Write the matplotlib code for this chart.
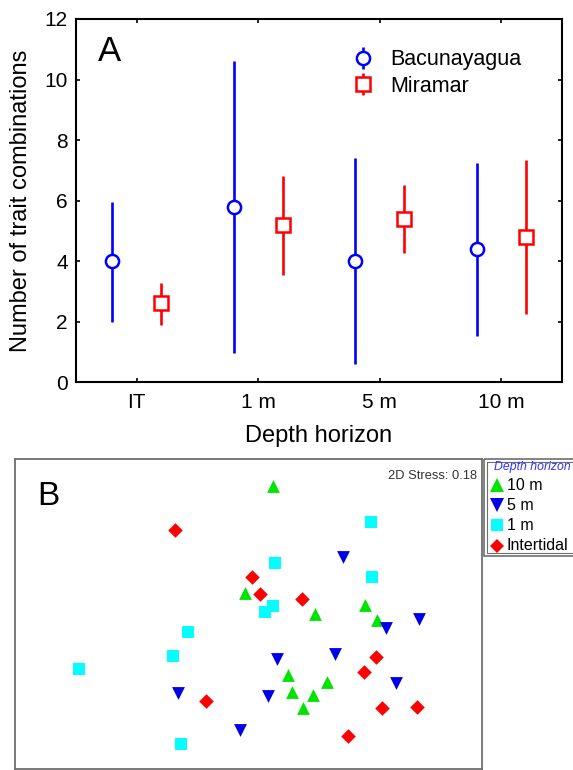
import matplotlib
matplotlib.use('Agg')
import matplotlib.pyplot as plt
from matplotlib.patches import Rectangle
import numpy as np

plt.rcParams['font.family'] = ['Liberation Sans', 'DejaVu Sans']

# ---------------- Panel A data ----------------
depths = ['IT', '1 m', '5 m', '10 m']
bac_mean = [4.0, 5.8, 4.0, 4.4]
bac_low = [2.0, 0.95, 0.6, 1.52]
bac_high = [5.95, 10.6, 7.4, 7.25]
mir_mean = [2.6, 5.2, 5.4, 4.8]
mir_low = [1.9, 3.55, 4.25, 2.25]
mir_high = [3.26, 6.82, 6.52, 7.33]

# ---------------- Panel B data (nMDS coordinates) ----------------
m10_x = [0.21, -0.03, 0.57, 1.00, 1.10, 0.34, 0.67, 0.37, 0.55, 0.47]
m10_y = [1.24, 0.20, 0.00, 0.09, -0.06, -0.59, -0.66, -0.75, -0.78, -0.91]
m5_x = [0.81, 1.46, 1.18, 0.74, 0.24, 1.26, -0.60, 0.17, -0.07]
m5_y = [0.55, -0.05, -0.14, -0.39, -0.44, -0.67, -0.76, -0.79, -1.12]
m1_x = [1.05, 0.23, 1.06, 0.21, 0.14, -0.52, -0.65, -1.45, -0.58]
m1_y = [0.89, 0.49, 0.36, 0.08, 0.02, -0.17, -0.41, -0.53, -1.26]
it_x = [-0.63, 0.03, 0.10, 0.46, 1.09, 0.99, -0.36, 1.14, 1.44, 0.85]
it_y = [0.81, 0.36, 0.19, 0.15, -0.42, -0.56, -0.84, -0.91, -0.90, -1.18]
stress = 0.18

BLUE = '#0000FF'
RED = '#FF0000'

W, H = 573, 770
fig = plt.figure(figsize=(W / 100, H / 100), dpi=100)

def fx(px):
    return px / W

def fy(py):
    return 1 - py / H

# ---------------- Panel A ----------------
axA = fig.add_axes([fx(76), fy(382), (562 - 76) / W, (382 - 19) / H])
x = np.arange(1, len(depths) + 1)
off = 0.2
bm = np.array(bac_mean); mm = np.array(mir_mean)
axA.errorbar(x - off, bm, yerr=[bm - np.array(bac_low), np.array(bac_high) - bm],
             fmt='o', color=BLUE, ecolor=BLUE, elinewidth=1.9, capsize=0,
             ms=9.5, mfc='white', mec=BLUE, mew=1.8, label='Bacunayagua', zorder=3)
axA.errorbar(x + off, mm, yerr=[mm - np.array(mir_low), np.array(mir_high) - mm],
             fmt='s', color=RED, ecolor=RED, elinewidth=1.9, capsize=0,
             ms=10, mfc='white', mec=RED, mew=1.8, label='Miramar', zorder=3)
axA.set_xlim(0.5, 4.5)
axA.set_ylim(0, 12)
axA.set_yticks(range(0, 13, 2))
axA.set_xticks(x)
axA.set_xticklabels(depths)
axA.tick_params(direction='in', length=3, width=1.2, labelsize=15, top=True, right=True, pad=8)
axA.tick_params(axis='y', pad=6)
for s in axA.spines.values():
    s.set_linewidth(1.5)
axA.set_xlabel('Depth horizon', fontsize=17, labelpad=9)
axA.set_ylabel('Number of trait combinations', fontsize=17, labelpad=9)
axA.text(0.045, 0.955, 'A', transform=axA.transAxes, fontsize=25, va='top', ha='left')
axA.legend(loc='upper left', bbox_to_anchor=(0.55, 0.94), frameon=False,
           fontsize=15.5, handlelength=1.0, handletextpad=0.8, labelspacing=0.25,
           borderaxespad=0)

# ---------------- Panel B ----------------
axB = fig.add_axes([fx(15), fy(769), (482 - 15) / W, (769 - 459) / H])
axB.scatter(m10_x, m10_y, marker='^', s=85, color='#00E400', linewidths=0, zorder=3)
axB.scatter(m5_x, m5_y, marker='v', s=85, color='#0000E6', linewidths=0, zorder=3)
axB.scatter(m1_x, m1_y, marker='s', s=68, color='#00FFFF', linewidths=0, zorder=3)
axB.scatter(it_x, it_y, marker='D', s=55, color=RED, linewidths=0, zorder=3)
axB.set_xlim(-2.0, 2.0)
axB.set_ylim(-1.5, 1.5)
axB.set_xticks([]); axB.set_yticks([])
for s in axB.spines.values():
    s.set_linewidth(1.3)
    s.set_edgecolor('#6e6e6e')
axB.text(0.047, 0.93, 'B', transform=axB.transAxes, fontsize=24, va='top', ha='left')
axB.text(0.99, 0.965, '2D Stress: %.2f' % stress, transform=axB.transAxes,
         fontsize=9.3, va='top', ha='right', color='#333333')

# ---------------- Panel B legend ----------------
axL = fig.add_axes([0, 0, 1, 1], facecolor='none')
axL.set_xlim(0, W); axL.set_ylim(H, 0)
axL.axis('off')
axL.add_patch(Rectangle((484, 459), 95, 97, fill=False, ec='#6e6e6e', lw=1.2))
axL.add_patch(Rectangle((487, 462), 95, 91, fill=False, ec='#6e6e6e', lw=0.8))
axL.text(494, 467, 'Depth horizon', fontsize=8.8, style='italic', color='#3333FF',
         va='center', ha='left')
leg_labels = ['10 m', '5 m', '1 m', 'Intertidal']
leg_markers = [('^', '#00E400', 10), ('v', '#0000E6', 10), ('s', '#00FFFF', 8.5), ('D', RED, 7.5)]
leg_y = [485, 505, 525, 545.5]
for lab, (mk, col, ms), yy in zip(leg_labels, leg_markers, leg_y):
    axL.plot([496.5], [yy], marker=mk, color=col, ms=ms, mew=0, ls='none')
    axL.text(507, yy, lab, fontsize=11.5, va='center', ha='left')

fig.savefig('out.png', dpi=100)
